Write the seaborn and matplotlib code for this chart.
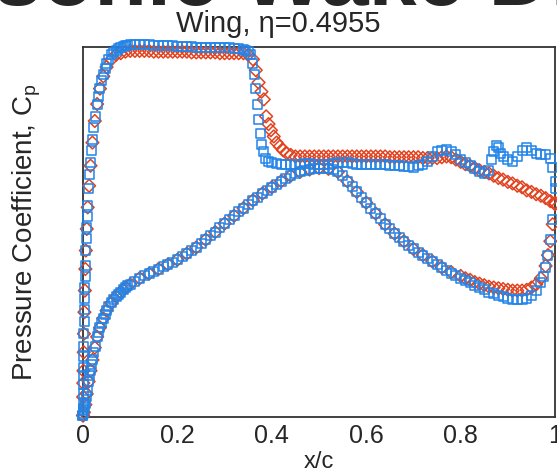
import matplotlib
matplotlib.use("Agg")
import matplotlib.pyplot as plt
import seaborn as sns
from matplotlib.ticker import MultipleLocator, FormatStrFormatter

# upper surface, CFD (blue squares)
x_cfd_up = [0.0, 0.0001, 0.0002, 0.0004, 0.0006, 0.0008, 0.001, 0.0013, 0.0016, 0.002, 0.0025,
            0.003, 0.0035, 0.004, 0.0045, 0.005, 0.006, 0.007, 0.008, 0.009, 0.010, 0.012,
            0.014, 0.016, 0.018, 0.020, 0.023, 0.026, 0.030, 0.033, 0.036, 0.040, 0.043, 0.047,
            0.050, 0.055, 0.06, 0.065, 0.07, 0.075, 0.08, 0.085, 0.09, 0.095,
            0.10, 0.11, 0.12, 0.13, 0.14, 0.15, 0.16, 0.17, 0.18, 0.19, 0.20, 0.21, 0.22, 0.23,
            0.24, 0.25, 0.26, 0.27, 0.28, 0.29, 0.30, 0.31, 0.32, 0.33, 0.34, 0.345, 0.35, 0.355,
            0.36, 0.363, 0.366, 0.369, 0.372, 0.375, 0.378, 0.382, 0.387, 0.393, 0.40, 0.41,
            0.42, 0.43, 0.44, 0.45, 0.46, 0.47, 0.48, 0.49, 0.50, 0.51, 0.52, 0.53, 0.54, 0.55,
            0.56, 0.57, 0.58, 0.59, 0.60, 0.61, 0.62, 0.63, 0.64, 0.65, 0.66, 0.67, 0.68, 0.69,
            0.70, 0.71, 0.72, 0.73, 0.74, 0.75, 0.76, 0.77, 0.78, 0.79, 0.80, 0.81, 0.82, 0.83,
            0.84, 0.85, 0.86, 0.865, 0.87, 0.875, 0.88, 0.885, 0.89, 0.90, 0.91, 0.92, 0.93,
            0.94, 0.95, 0.96, 0.97, 0.98, 0.99, 0.995, 1.0]
cp_cfd_up = [1.19, 1.15, 1.11, 1.05, 0.99, 0.93, 0.88, 0.81, 0.74, 0.66, 0.58,
             0.50, 0.43, 0.36, 0.29, 0.22, 0.12, 0.04, -0.03, -0.10, -0.17, -0.28,
             -0.37, -0.45, -0.53, -0.60, -0.68, -0.75, -0.83, -0.88, -0.93, -0.98, -1.02, -1.06,
             -1.09, -1.12, -1.15, -1.165, -1.18, -1.19, -1.20, -1.205, -1.21, -1.21,
             -1.215, -1.215, -1.215, -1.215, -1.215, -1.21, -1.21, -1.21, -1.21, -1.21, -1.205, -1.205, -1.205, -1.205,
             -1.20, -1.20, -1.20, -1.20, -1.20, -1.195, -1.195, -1.195, -1.19, -1.19, -1.185, -1.18, -1.17, -1.15,
             -1.09, -1.02, -0.93, -0.83, -0.73, -0.64, -0.57, -0.52, -0.48, -0.46, -0.45, -0.445,
             -0.44, -0.44, -0.44, -0.44, -0.44, -0.445, -0.445, -0.44, -0.44, -0.44, -0.44, -0.445, -0.45, -0.45,
             -0.45, -0.445, -0.44, -0.44, -0.44, -0.44, -0.44, -0.435, -0.435, -0.43, -0.43, -0.43, -0.425, -0.425,
             -0.42, -0.43, -0.44, -0.46, -0.49, -0.52, -0.53, -0.535, -0.52, -0.50, -0.47, -0.45, -0.43, -0.41,
             -0.39, -0.38, -0.40, -0.47, -0.52, -0.56, -0.55, -0.51, -0.49, -0.47, -0.46, -0.49, -0.53,
             -0.55, -0.53, -0.51, -0.50, -0.50, -0.48, -0.42, -0.33]

# lower surface, CFD
x_cfd_lo = [0.0, 0.001, 0.002, 0.003, 0.005, 0.007, 0.009, 0.012, 0.014, 0.016, 0.018, 0.020,
            0.023, 0.026, 0.030, 0.033, 0.036, 0.040, 0.043, 0.047, 0.050, 0.055, 0.06, 0.065,
            0.07, 0.075, 0.08, 0.085, 0.09, 0.095, 0.10, 0.11, 0.12, 0.13, 0.14, 0.15, 0.16,
            0.17, 0.18, 0.19, 0.20, 0.21, 0.22, 0.23, 0.24, 0.25, 0.26, 0.27, 0.28, 0.29, 0.30,
            0.31, 0.32, 0.33, 0.34, 0.35, 0.36, 0.37, 0.38, 0.39, 0.40, 0.41, 0.42, 0.43, 0.44,
            0.45, 0.46, 0.47, 0.48, 0.49, 0.50, 0.51, 0.52, 0.53, 0.54, 0.55, 0.56, 0.57, 0.58,
            0.59, 0.60, 0.61, 0.62, 0.63, 0.64, 0.65, 0.66, 0.67, 0.68, 0.69, 0.70, 0.71, 0.72,
            0.73, 0.74, 0.75, 0.76, 0.77, 0.78, 0.79, 0.80, 0.81, 0.82, 0.83, 0.84, 0.85, 0.86,
            0.87, 0.88, 0.89, 0.90, 0.91, 0.92, 0.93, 0.94, 0.95, 0.96, 0.97, 0.975, 0.98,
            0.985, 0.99, 0.995, 1.0]
cp_cfd_lo = [1.19, 1.18, 1.16, 1.14, 1.11, 1.07, 1.03, 0.97, 0.93, 0.90, 0.86, 0.83,
             0.78, 0.74, 0.68, 0.65, 0.62, 0.59, 0.56, 0.535, 0.51, 0.485, 0.46, 0.44,
             0.42, 0.405, 0.39, 0.375, 0.36, 0.35, 0.34, 0.32, 0.30, 0.285, 0.27, 0.255, 0.24,
             0.225, 0.21, 0.195, 0.18, 0.16, 0.14, 0.12, 0.10, 0.075, 0.05, 0.025, 0.0, -0.03, -0.055,
             -0.08, -0.105, -0.13, -0.155, -0.18, -0.205, -0.225, -0.25, -0.27, -0.29, -0.31, -0.33, -0.35, -0.365,
             -0.38, -0.39, -0.40, -0.405, -0.41, -0.415, -0.415, -0.41, -0.405, -0.39, -0.365, -0.33, -0.295, -0.26,
             -0.225, -0.19, -0.155, -0.12, -0.085, -0.05, -0.02, 0.01, 0.035, 0.06, 0.085, 0.11, 0.13, 0.15,
             0.17, 0.19, 0.21, 0.23, 0.25, 0.27, 0.285, 0.30, 0.315, 0.33, 0.345, 0.36, 0.375, 0.39,
             0.40, 0.41, 0.42, 0.43, 0.435, 0.44, 0.44, 0.43, 0.41, 0.38, 0.33, 0.29, 0.23,
             0.15, 0.05, -0.08, -0.28]

# upper surface, experiment (red diamonds)
x_exp_up = [0.0, 0.0003, 0.0006, 0.001, 0.0015, 0.002, 0.003, 0.004, 0.005, 0.006, 0.008, 0.010,
            0.013, 0.016, 0.020, 0.025, 0.030, 0.036, 0.043, 0.050, 0.06, 0.07, 0.08, 0.09,
            0.10, 0.11, 0.12, 0.13, 0.14, 0.15, 0.16, 0.17, 0.18, 0.19, 0.20, 0.21, 0.22, 0.23,
            0.24, 0.25, 0.26, 0.27, 0.28, 0.29, 0.30, 0.31, 0.32, 0.33, 0.34, 0.35, 0.36, 0.366,
            0.372, 0.378, 0.383, 0.388, 0.393, 0.398, 0.404, 0.41, 0.417, 0.424, 0.432, 0.44,
            0.45, 0.46, 0.47, 0.48, 0.49, 0.50, 0.51, 0.52, 0.53, 0.54, 0.55, 0.56, 0.57, 0.58,
            0.59, 0.60, 0.61, 0.62, 0.63, 0.64, 0.65, 0.66, 0.67, 0.68, 0.69, 0.70, 0.71, 0.72,
            0.73, 0.74, 0.75, 0.76, 0.77, 0.78, 0.79, 0.80, 0.81, 0.82, 0.83, 0.84, 0.85, 0.86,
            0.87, 0.88, 0.89, 0.90, 0.91, 0.92, 0.93, 0.94, 0.95, 0.96, 0.97, 0.98, 0.99, 1.0]
cp_exp_up = [1.19, 1.07, 0.98, 0.90, 0.78, 0.66, 0.52, 0.38, 0.24, 0.12, -0.02, -0.16,
             -0.30, -0.43, -0.58, -0.72, -0.83, -0.93, -1.01, -1.07, -1.12, -1.15, -1.16, -1.17,
             -1.175, -1.175, -1.175, -1.175, -1.175, -1.17, -1.17, -1.17, -1.17, -1.17, -1.17, -1.17, -1.17, -1.165,
             -1.165, -1.165, -1.165, -1.165, -1.165, -1.16, -1.16, -1.16, -1.16, -1.16, -1.16, -1.15, -1.12, -1.05,
             -0.97, -0.91, -0.86, -0.75, -0.70, -0.66, -0.62, -0.58, -0.555, -0.53, -0.51, -0.50,
             -0.49, -0.49, -0.49, -0.49, -0.49, -0.49, -0.49, -0.49, -0.49, -0.49, -0.49, -0.49, -0.49, -0.49,
             -0.49, -0.49, -0.49, -0.49, -0.49, -0.49, -0.485, -0.485, -0.485, -0.485, -0.485, -0.485, -0.485, -0.48,
             -0.48, -0.48, -0.48, -0.485, -0.49, -0.485, -0.47, -0.455, -0.44, -0.43, -0.415, -0.40, -0.39, -0.38,
             -0.365, -0.35, -0.34, -0.325, -0.315, -0.30, -0.29, -0.27, -0.26, -0.245, -0.235, -0.22, -0.20, -0.18]

# lower surface, experiment
x_exp_lo = [0.0, 0.002, 0.005, 0.008, 0.012, 0.016, 0.020, 0.025, 0.030, 0.036, 0.043, 0.050,
            0.06, 0.07, 0.08, 0.09, 0.10, 0.12, 0.14, 0.16, 0.18, 0.20, 0.22, 0.24, 0.26, 0.28,
            0.30, 0.32, 0.34, 0.36, 0.38, 0.40, 0.42, 0.44, 0.46, 0.48, 0.50, 0.52, 0.54, 0.56,
            0.58, 0.60, 0.62, 0.64, 0.66, 0.68, 0.70, 0.72, 0.74, 0.76, 0.78, 0.80, 0.81, 0.82,
            0.83, 0.84, 0.85, 0.86, 0.87, 0.88, 0.89, 0.90, 0.91, 0.92, 0.93, 0.94, 0.95, 0.96,
            0.97, 0.98, 0.985, 0.99, 0.995, 1.0]
cp_exp_lo = [1.19, 1.17, 1.12, 1.05, 0.97, 0.90, 0.83, 0.75, 0.68, 0.62, 0.56, 0.51,
             0.46, 0.42, 0.39, 0.36, 0.34, 0.30, 0.27, 0.24, 0.21, 0.18, 0.14, 0.10, 0.05, 0.0,
             -0.055, -0.105, -0.155, -0.205, -0.25, -0.29, -0.33, -0.365, -0.39, -0.405, -0.415, -0.41, -0.39, -0.33,
             -0.26, -0.19, -0.12, -0.05, 0.01, 0.06, 0.11, 0.15, 0.19, 0.23, 0.26, 0.285, 0.30, 0.31,
             0.325, 0.335, 0.345, 0.355, 0.36, 0.365, 0.37, 0.375, 0.38, 0.38, 0.38, 0.375, 0.36, 0.34,
             0.30, 0.22, 0.15, 0.06, -0.05, -0.19]

blue = "#2284e8"
red = "#e2421e"

sns.set_style("white")
plt.rcParams["font.family"] = ["Liberation Sans", "DejaVu Sans"]
plt.rcParams["mathtext.default"] = "regular"

fig = plt.figure(figsize=(5.57, 4.73), dpi=100)
ax = fig.add_axes([0.149, 0.1184, 0.8475, 0.7822])

for xs, ys in [(x_exp_up, cp_exp_up), (x_exp_lo, cp_exp_lo)]:
    sns.scatterplot(x=xs, y=ys, ax=ax, marker="D", s=42, facecolor="none",
                    edgecolor=red, linewidth=1.1, clip_on=False, zorder=3)
for xs, ys in [(x_cfd_up, cp_cfd_up), (x_cfd_lo, cp_cfd_lo)]:
    sns.scatterplot(x=xs, y=ys, ax=ax, marker="s", s=42, facecolor="none",
                    edgecolor=blue, linewidth=1.1, clip_on=False, zorder=4)

ax.set_xlim(0, 1)
ax.set_ylim(1.2, -1.2)
ax.xaxis.set_major_locator(MultipleLocator(0.2))
ax.xaxis.set_minor_locator(MultipleLocator(0.05))
ax.xaxis.set_major_formatter(FormatStrFormatter("%g"))
ax.tick_params(axis="x", which="major", direction="in", length=7, width=1.2,
               labelsize=18, pad=5, top=False, color="#333333")
ax.tick_params(axis="x", which="minor", direction="in", length=4, width=1.0,
               top=False, color="#333333")
ax.set_yticks([])
for sp in ax.spines.values():
    sp.set_color("#333333")
    sp.set_linewidth(1.3)

ax.set_xlabel("x/c", fontsize=17, labelpad=2)
ax.set_ylabel("Pressure Coefficient, C$_p$", fontsize=20)
ax.yaxis.set_label_coords(-0.085, 0.5)

fig.text(0.5, 1 - 32 / 473, "Wing, \u03b7=0.4955", ha="center", va="baseline", fontsize=21)
fig.text(0.5 - 30 / 557, 1 - 5 / 473, "Transonic Wake Drag", ha="center", va="baseline",
         fontsize=62, fontweight="bold")

fig.savefig("out.png", dpi=100)
